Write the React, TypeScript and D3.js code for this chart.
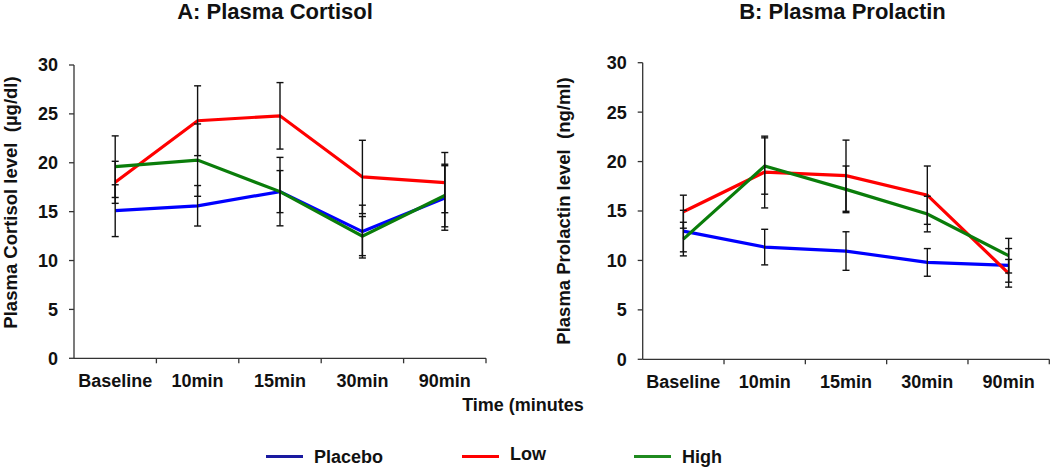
import React from "react";
import * as d3 from "d3";

const categories = ["Baseline", "10min", "15min", "30min", "90min"];
const yTicks = [0, 5, 10, 15, 20, 25, 30];
const seriesNames = ["Placebo", "Low", "High"];
const seriesColors = ["#0000ff", "#ff0000", "#0a7d0a"];
const legendColors = ["#1a1aa0", "#ff0000", "#1f8a1f"];

// Panel A: Plasma Cortisol
const cortisolPlacebo = [15.1, 15.6, 17.05, 12.96, 16.4];
const cortisolLow = [18.0, 24.3, 24.8, 18.55, 17.97];
const cortisolHigh = [19.6, 20.27, 17.05, 12.5, 16.65];
const cortisolPlaceboErr = [2.65, 2.07, 3.5, 2.7, 3.3];
const cortisolLowErr = [2.15, 3.57, 3.4, 3.75, 3.08];
const cortisolHighErr = [3.15, 3.7, 2.15, 2.0, 3.2];

// Panel B: Plasma Prolactin
const prolactinPlacebo = [12.97, 11.35, 10.95, 9.8, 9.5];
const prolactinLow = [14.93, 18.94, 18.57, 16.6, 8.7];
const prolactinHigh = [12.16, 19.55, 17.19, 14.69, 10.48];
const prolactinPlaceboErr = [2.1, 1.8, 1.95, 1.4, 1.7];
const prolactinLowErr = [1.67, 3.63, 3.6, 2.95, 1.4];
const prolactinHighErr = [1.7, 2.85, 2.36, 1.8, 1.75];

const FONT = "'Liberation Sans', Arial, sans-serif";

type PanelProps = {
  title: string;
  titleX: number;
  yLabel: string;
  yLabelX: number;
  yLabelY: number;
  x0: number;
  x1: number;
  yTop: number;
  yBottom: number;
  values: number[][];
  errors: number[][];
};

function Panel(p: PanelProps) {
  const x = d3.scaleBand<string>().domain(categories).range([p.x0, p.x1]);
  const y = d3.scaleLinear().domain([0, 30]).range([p.yBottom, p.yTop]);
  const cx = (c: string) => (x(c) as number) + x.bandwidth() / 2;
  const line = d3
    .line<number>()
    .x((_, i) => cx(categories[i]))
    .y((v) => y(v));
  const axisColor = "#333";
  return (
    <g>
      <text
        x={p.titleX}
        y={19}
        textAnchor="middle"
        fontFamily={FONT}
        fontWeight="bold"
        fontSize={22}
        fill="#111"
      >
        {p.title}
      </text>
      <text
        transform={`translate(${p.yLabelX},${p.yLabelY}) rotate(-90)`}
        textAnchor="middle"
        fontFamily={FONT}
        fontWeight="bold"
        fontSize={18.5}
        fill="#111"
        style={{ whiteSpace: "pre" }}
      >
        {p.yLabel}
      </text>
      {/* y axis */}
      <line x1={p.x0} x2={p.x0} y1={p.yTop} y2={p.yBottom} stroke={axisColor} strokeWidth={1.3} />
      {yTicks.map((t) => (
        <g key={t}>
          <line x1={p.x0 - 5} x2={p.x0} y1={y(t)} y2={y(t)} stroke={axisColor} strokeWidth={1.3} />
          <text
            x={p.x0 - 16}
            y={y(t)}
            dy="0.36em"
            textAnchor="end"
            fontFamily={FONT}
            fontWeight="bold"
            fontSize={18}
            fill="#111"
          >
            {t}
          </text>
        </g>
      ))}
      {/* x axis */}
      <line x1={p.x0} x2={p.x1} y1={p.yBottom} y2={p.yBottom} stroke={axisColor} strokeWidth={1.3} />
      {categories.map((c) => (
        <line
          key={"t" + c}
          x1={(x(c) as number) + x.bandwidth()}
          x2={(x(c) as number) + x.bandwidth()}
          y1={p.yBottom}
          y2={p.yBottom + 5}
          stroke={axisColor}
          strokeWidth={1.3}
        />
      ))}
      {categories.map((c) => (
        <text
          key={"l" + c}
          x={cx(c)}
          y={p.yBottom + 29}
          textAnchor="middle"
          fontFamily={FONT}
          fontWeight="bold"
          fontSize={18}
          fill="#111"
        >
          {c}
        </text>
      ))}
      {/* lines */}
      {p.values.map((vals, si) => (
        <path key={"p" + si} d={line(vals) || ""} fill="none" stroke={seriesColors[si]} strokeWidth={3.2} />
      ))}
      {/* error bars */}
      {p.values.map((vals, si) =>
        vals.map((v, i) => {
          const xx = cx(categories[i]);
          const e = p.errors[si][i];
          const yt = y(v + e);
          const yb = y(v - e);
          return (
            <g key={"e" + si + "-" + i} stroke="#111" strokeWidth={1.4}>
              <line x1={xx} x2={xx} y1={yt} y2={yb} />
              <line x1={xx - 3.5} x2={xx + 3.5} y1={yt} y2={yt} />
              <line x1={xx - 3.5} x2={xx + 3.5} y1={yb} y2={yb} />
            </g>
          );
        })
      )}
    </g>
  );
}

export default function App() {
  const legendX = [266, 462, 634];
  return (
    <div style={{ position: "absolute", left: 0, top: 0 }}>
      <svg width={1050} height={468} style={{ display: "block", background: "#fff" }}>
        <Panel
          title="A: Plasma Cortisol"
          titleX={275}
          yLabel="Plasma Cortisol level  (µg/dl)"
          yLabelX={17}
          yLabelY={202.5}
          x0={74}
          x1={486}
          yTop={65}
          yBottom={358.3}
          values={[cortisolPlacebo, cortisolLow, cortisolHigh]}
          errors={[cortisolPlaceboErr, cortisolLowErr, cortisolHighErr]}
        />
        <Panel
          title="B: Plasma Prolactin"
          titleX={842.5}
          yLabel="Plasma Prolactin level  (ng/ml)"
          yLabelX={569.5}
          yLabelY={211}
          x0={642.7}
          x1={1049.3}
          yTop={62.7}
          yBottom={359.3}
          values={[prolactinPlacebo, prolactinLow, prolactinHigh]}
          errors={[prolactinPlaceboErr, prolactinLowErr, prolactinHighErr]}
        />
        <text
          x={523}
          y={410.5}
          textAnchor="middle"
          fontFamily={FONT}
          fontWeight="bold"
          fontSize={18}
          fill="#111"
        >
          Time (minutes
        </text>
        {seriesNames.map((n, i) => (
          <g key={n}>
            <line
              x1={legendX[i]}
              x2={legendX[i] + 37}
              y1={456.5}
              y2={456.5}
              stroke={legendColors[i]}
              strokeWidth={3}
            />
            <text
              x={legendX[i] + 48}
              y={i === 1 ? 460 : 462.5}
              fontFamily={FONT}
              fontWeight="bold"
              fontSize={18}
              fill="#111"
            >
              {n}
            </text>
          </g>
        ))}
      </svg>
    </div>
  );
}
